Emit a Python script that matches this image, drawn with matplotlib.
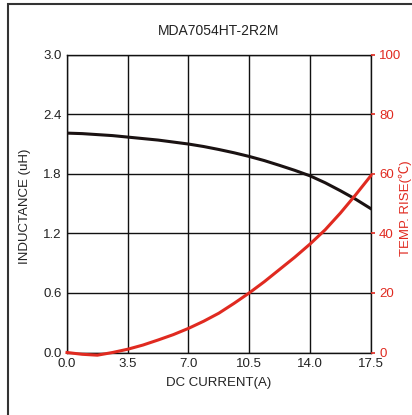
import matplotlib
matplotlib.use("Agg")
import matplotlib.pyplot as plt
from matplotlib.patches import Rectangle

plt.rcParams['font.family'] = ['Liberation Sans', 'Noto Sans CJK SC', 'DejaVu Sans']

title = "MDA7054HT-2R2M"
current = [0, 0.875, 1.75, 2.625, 3.5, 4.375, 5.25, 6.125, 7, 7.875, 8.75, 9.625,
           10.5, 11.375, 12.25, 13.125, 14, 14.875, 15.75, 16.625, 17.5]
inductance = [2.21, 2.205, 2.195, 2.185, 2.17, 2.155, 2.14, 2.12, 2.10, 2.075, 2.045, 2.012,
              1.975, 1.933, 1.885, 1.835, 1.78, 1.71, 1.63, 1.545, 1.45]
temp_rise = [0, -0.6, -0.9, 0.0, 1.1, 2.5, 4.2, 6.0, 8.1, 10.5, 13.2, 16.5,
             20, 23.8, 27.9, 32.0, 36.4, 41.2, 46.8, 52.9, 59.3]
x_ticks = [0.0, 3.5, 7.0, 10.5, 14.0, 17.5]
l_ticks = [0.0, 0.6, 1.2, 1.8, 2.4, 3.0]
r_ticks = [0, 20, 40, 60, 80, 100]

RED = '#e02a20'
fig = plt.figure(figsize=(4.12, 4.15), dpi=100)
fig.patch.set_facecolor('white')
fig.patches.append(Rectangle((8/412, -0.2), 1.5, 1.2 - 4/415, transform=fig.transFigure,
                             fill=False, edgecolor='#333333', linewidth=1.5, figure=fig))

ax = fig.add_axes([67/412, 62.5/415, 303.7/412, 297.8/415])
ax.set_xlim(0, 17.5)
ax.set_ylim(0, 3.0)
ax.set_xticks(x_ticks)
ax.set_xticklabels([f"{v:.1f}" for v in x_ticks])
ax.set_yticks(l_ticks)
ax.set_yticklabels([f"{v:.1f}" for v in l_ticks])
ax.grid(True, color='#111111', linewidth=1.0)
ax.tick_params(axis='both', length=0, labelsize=9.5, colors='#222222', pad=4)
for s in ax.spines.values():
    s.set_color('#111111')
    s.set_linewidth(1.0)
ax.plot(current, inductance, color='#1a1212', linewidth=2.2, zorder=3)
ax.set_xlabel("DC CURRENT(A)", fontsize=9.5, color='#222222', labelpad=5)
ax.set_ylabel("INDUCTANCE (uH)", fontsize=9.5, color='#222222', va='center')
ax.yaxis.set_label_coords(-0.138, 0.49)
ax.set_title(title, fontsize=10, color='#222222', pad=14)

ax2 = ax.twinx()
ax2.set_ylim(0, 100)
ax2.set_yticks(r_ticks)
ax2.set_yticklabels([str(v) for v in r_ticks])
ax2.tick_params(axis='y', length=3, width=1.2, color=RED, labelcolor=RED, labelsize=9.5, pad=3)
ax2.plot(current, temp_rise, color=RED, linewidth=2.2, zorder=4, clip_on=False)
ax2.set_ylabel("TEMP. RISE(℃)", fontsize=9.5, color=RED, va='center')
ax2.yaxis.set_label_coords(1.113, 0.485)
for s in ax2.spines.values():
    s.set_visible(False)

fig.savefig("out.png", dpi=100)
